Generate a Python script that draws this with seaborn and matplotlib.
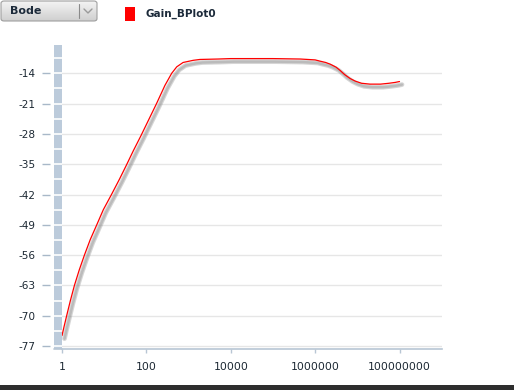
import numpy as np
import pandas as pd
import matplotlib
matplotlib.use("Agg")
import matplotlib.pyplot as plt
import matplotlib.patheffects as pe
from matplotlib.patches import Rectangle, FancyBboxPatch
from matplotlib.transforms import blended_transform_factory
from matplotlib.ticker import FixedLocator, FixedFormatter, NullLocator
import seaborn as sns

# ---- data ----
freq = [1, 1.12, 1.29, 1.58, 1.97, 2.57, 3.40, 4.68, 6.67, 9.55, 14.9,
        22.9, 33.3, 49.0, 74.5, 110, 174, 275, 398, 525, 741, 1288,
        1862, 5000, 10000, 100000, 446700, 1.0e6, 1.32e6, 1.78e6,
        2.29e6, 3.16e6, 3.98e6, 5.01e6, 6.76e6, 8.91e6, 1.26e7, 2.0e7,
        3.55e7, 5.62e7, 7.94e7, 1.0e8]
gain = [-74.6, -72.5, -70.0, -66.5, -63.0, -59.4, -56.0, -52.4, -49.0, -45.5,
        -42.0, -38.5, -35.3, -31.9, -28.4, -25.0, -21.0, -16.8, -14.0, -12.5,
        -11.5, -11.0, -10.8, -10.7, -10.6, -10.6, -10.7, -10.9,
        -11.2, -11.5, -11.9, -12.6, -13.4, -14.3, -15.2, -15.8, -16.3, -16.5,
        -16.5, -16.3, -16.1, -15.9]
series_name = "Gain_BPlot0"
y_ticks = [-77, -70, -63, -56, -49, -42, -35, -28, -21, -14]
x_ticks = [1, 100, 10000, 1000000, 100000000]
x_tick_labels = ["1", "100", "10000", "1000000", "100000000"]
selector_label = "Bode"

df = pd.DataFrame({"freq": freq, "gain": gain, "series": series_name})

sns.set_theme(style="white")
plt.rcParams["font.family"] = ["DejaVu Sans"]

W, H = 514, 390
fig = plt.figure(figsize=(W / 100, H / 100), dpi=100)
fig.patch.set_facecolor("white")

def fx(px):
    return px / W

def fy(py):
    return 1 - py / H

left, right, top, bottom = 62, 441.7, 45, 349.3
ax = fig.add_axes([fx(left), fy(bottom), fx(right - left), (bottom - top) / H])
ax.set_facecolor("white")

sns.lineplot(data=df, x="freq", y="gain", ax=ax, color="#ff0000",
             linewidth=0.9, legend=False, sort=False)
line = ax.get_lines()[0]
line.set_solid_joinstyle("round")
line.set_path_effects([
    pe.SimpleLineShadow(offset=(1.8, -2.2), shadow_color="#8a8a8a", alpha=0.35,
                        linewidth=3.4),
    pe.SimpleLineShadow(offset=(1.8, -2.2), shadow_color="#8a8a8a", alpha=0.35,
                        linewidth=1.8),
    pe.Normal(),
])

ax.set_xscale("log")
ax.set_xlim(1, 1.0e9)
ax.set_ylim(-77.76, -7.46)
ax.set_xlabel("")
ax.set_ylabel("")

ax.yaxis.set_major_locator(FixedLocator(y_ticks))
ax.yaxis.set_major_formatter(FixedFormatter([str(v) for v in y_ticks]))
ax.yaxis.set_minor_locator(NullLocator())
ax.grid(axis="y", color="#e6e6e6", linewidth=1.0)
ax.grid(axis="x", visible=False)

ax.xaxis.set_major_locator(FixedLocator(x_ticks))
ax.xaxis.set_major_formatter(FixedFormatter(x_tick_labels))
ax.xaxis.set_minor_locator(NullLocator())

for s in ["top", "right"]:
    ax.spines[s].set_visible(False)
ax.spines["left"].set_position(("outward", 9))
ax.spines["left"].set_visible(False)
ax.spines["bottom"].set_color("#b8c6d4")
ax.spines["bottom"].set_linewidth(1.2)

txt_color = "#1c2833"
ax.tick_params(axis="y", which="major", length=5.8, width=1.0, color="#a8b8c8",
               pad=4.0, labelsize=7.6, labelcolor=txt_color, left=True)
ax.tick_params(axis="x", which="major", length=3.2, width=1.0, color="#b8c6d4",
               pad=6, labelsize=7.8, labelcolor=txt_color, bottom=True)

# blue-gray axis bar with white separators
bar_w = 8.5 / (right - left)
ax.add_patch(Rectangle((-bar_w, 0), bar_w, 1.0, transform=ax.transAxes,
                       facecolor="#bccbdb", edgecolor="none", clip_on=False,
                       zorder=3))
blend = blended_transform_factory(ax.transAxes, ax.transData)
sep_vals = [v for v in np.arange(y_ticks[0], -7.5, 3.5)]
ax.hlines(sep_vals, -bar_w, 0, transform=blend, colors="white",
          linewidth=1.2, clip_on=False, zorder=4)
ax.plot([-bar_w, 0], [0, 0], transform=ax.transAxes, color="#b8c6d4",
        linewidth=1.2, clip_on=False, zorder=4)

# ---- dropdown "Bode" ----
dd = fig.add_axes([fx(1), fy(21), fx(96), 20 / H])
grad = np.linspace(0, 1, 50).reshape(-1, 1)
dd.imshow(grad, aspect="auto", cmap=matplotlib.colors.LinearSegmentedColormap.from_list(
    "g", ["#f4f4f4", "#cfcfcf"]), extent=[0, 1, 0, 1])
dd.set_xlim(0, 1)
dd.set_ylim(0, 1)
dd.axis("off")
fig.patches.append(FancyBboxPatch((fx(1), fy(21)), fx(96), 20 / H,
                                  boxstyle="round,pad=0,rounding_size=0.006",
                                  transform=fig.transFigure, facecolor="none",
                                  edgecolor="#a0a0a0", linewidth=0.8))
fig.lines.append(matplotlib.lines.Line2D([fx(79), fx(79)], [fy(4), fy(18)],
                                         transform=fig.transFigure,
                                         color="#8a8a8a", linewidth=0.8))
fig.lines.append(matplotlib.lines.Line2D([fx(84), fx(88), fx(92)],
                                         [fy(9), fy(13), fy(9)],
                                         transform=fig.transFigure,
                                         color="#9a9a9a", linewidth=1.0))
fig.text(fx(10), fy(11), selector_label, fontsize=8, fontweight="bold",
         color="#1c2a3a", va="center", ha="left")

# ---- legend ----
fig.patches.append(Rectangle((fx(125), fy(21)), fx(10), 14 / H,
                             transform=fig.transFigure, facecolor="#ff0000",
                             edgecolor="none"))
fig.text(fx(145), fy(13.5), series_name, fontsize=7.5, fontweight="bold",
         color="#1c2a3a", va="center", ha="left")

# ---- dark bottom band ----
fig.patches.append(Rectangle((0, 0), 1, 5 / H, transform=fig.transFigure,
                             facecolor="#2e2e2e", edgecolor="none"))

fig.savefig("out.png", dpi=100)
